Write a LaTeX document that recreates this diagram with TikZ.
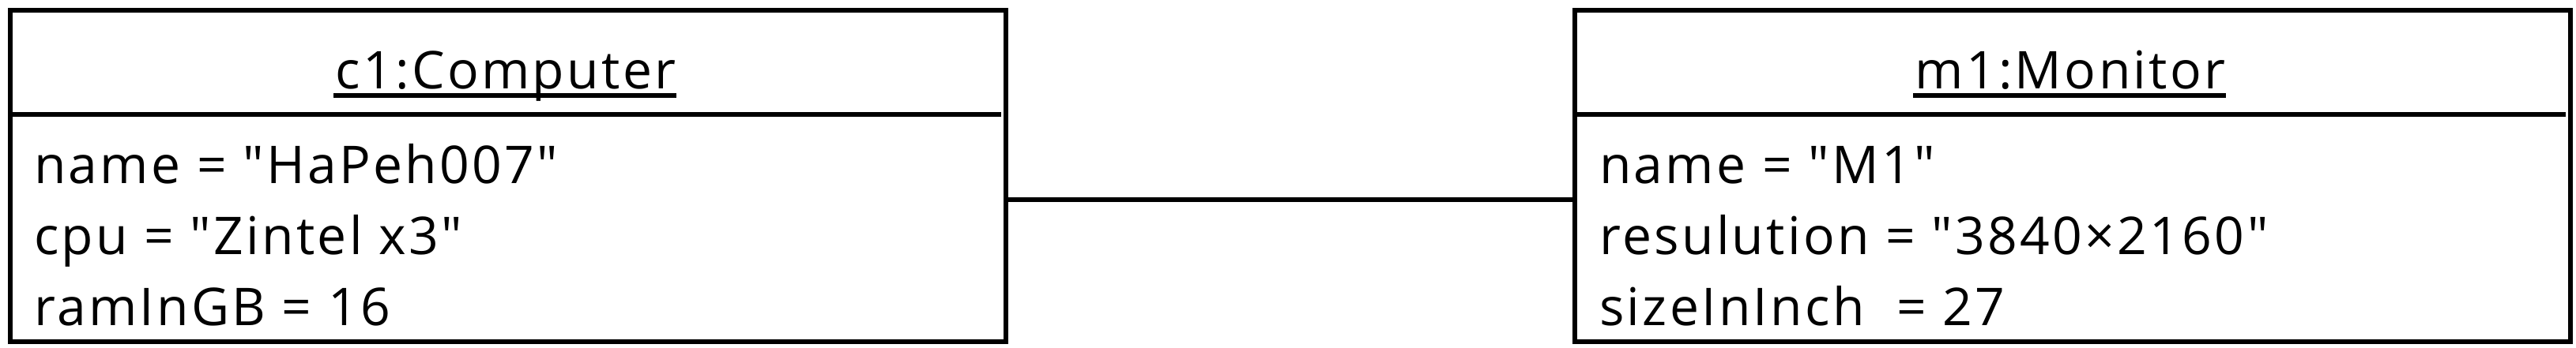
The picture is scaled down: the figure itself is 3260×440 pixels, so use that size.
\documentclass[tikz,border=0pt]{standalone}
\usepackage{fontspec}
\setmainfont{Open Sans}[Ligatures=TeXOff, LetterSpace=5.0]
\begin{document}
\begin{tikzpicture}[x=1pt,y=-1pt,
  objbox/.style={draw,line width=6pt,minimum width=1260pt,minimum height=420pt,inner sep=0pt},
  title/.style={inner sep=0pt,anchor=base,font=\fontsize{66pt}{90pt}\selectfont},
  attr/.style={inner sep=0pt,anchor=base west,font=\fontsize{66pt}{90pt}\selectfont},
  rule/.style={line width=6pt},
  conn/.style={line width=6pt}]
\useasboundingbox (0,0) rectangle (3260,440);
% boxes
\node[objbox] (c1) at (643,223) {};
\node[objbox] (m1) at (2623,223) {};
% separators
\draw[rule] (16,145) -- (1267,145);
\draw[rule] (1996,145) -- (3247,145);
% titles
\node[title] (t1) at (640,112) {c1:Computer};
\draw[rule] ([xshift=-2pt,yshift=-9pt]t1.base west) -- ([xshift=0pt,yshift=-9pt]t1.base east);
\node[title] (t2) at (2620,112) {m1:Monitor};
\draw[rule] ([xshift=-2pt,yshift=-9pt]t2.base west) -- ([xshift=0pt,yshift=-9pt]t2.base east);
% attributes
\node[attr] (a1) at (43,232) {name = "HaPeh007"};
\node[attr] (a2) at (43,322) {cpu = "Zintel x3"};
\node[attr] (a3) at (43,412) {ramInGB = 16};
\node[attr] (b1) at (2024,232) {name = "M1"};
\node[attr] (b2) at (2024,322) {resulution = "3840×2160"};
\node[attr] (b3) at (2024,412) {sizeInInch\ \ = 27};
% link
\draw[conn] ([yshift=-30pt]c1.east) -- ([yshift=-30pt]m1.west);
\end{tikzpicture}
\end{document}
